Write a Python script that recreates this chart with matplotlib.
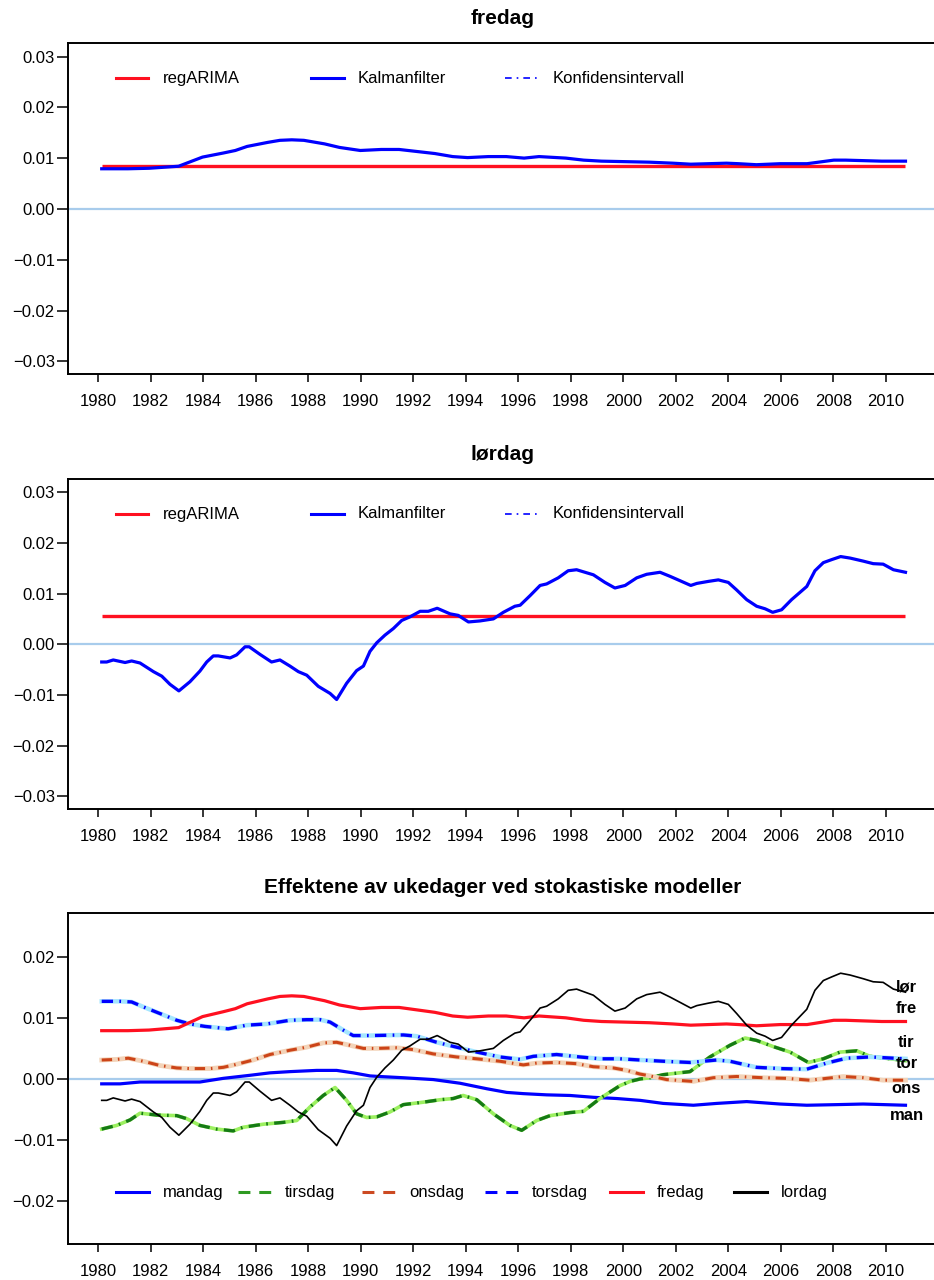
import matplotlib
matplotlib.use("Agg")
import matplotlib.pyplot as plt
from matplotlib.lines import Line2D

plt.rcParams['font.family'] = ['Liberation Sans', 'DejaVu Sans']

# ---------------------------------------------------------------- data
years = list(range(1980, 2011, 2))

reg_fredag = 0.0085
reg_lordag = 0.0056

fredag = [(1980.13, 0.0079), (1981.13, 0.0079), (1981.93, 0.0080), (1983.06, 0.0084),
          (1983.97, 0.0102), (1984.76, 0.0110), (1985.22, 0.0115), (1985.67, 0.0123),
          (1986.46, 0.0131), (1986.92, 0.0135), (1987.37, 0.0136), (1987.83, 0.0135),
          (1988.62, 0.0128), (1989.19, 0.0121), (1989.98, 0.0115), (1990.78, 0.0117),
          (1991.46, 0.0117), (1992.14, 0.0113), (1992.82, 0.0109), (1993.50, 0.0103),
          (1994.07, 0.0101), (1994.86, 0.0103), (1995.54, 0.0103), (1996.22, 0.0100),
          (1996.79, 0.0103), (1997.81, 0.0100), (1998.49, 0.0096), (1999.17, 0.0094),
          (2000.08, 0.0093), (2000.99, 0.0092), (2001.89, 0.0090), (2002.57, 0.0088),
          (2003.93, 0.0090), (2004.39, 0.0089), (2005.07, 0.0087), (2005.98, 0.0089),
          (2007.00, 0.0089), (2008.02, 0.0096), (2008.47, 0.0096), (2009.84, 0.0094),
          (2010.75, 0.0094)]

lordag = [(1980.13, -0.0035), (1980.32, -0.0035), (1980.57, -0.0031), (1981.02, -0.0036),
          (1981.27, -0.0033), (1981.59, -0.0037), (1982.10, -0.0054), (1982.42, -0.0063),
          (1982.73, -0.0079), (1983.07, -0.0092), (1983.49, -0.0074), (1983.87, -0.0053),
          (1984.13, -0.0035), (1984.38, -0.0023), (1984.57, -0.0023), (1985.02, -0.0027),
          (1985.27, -0.0021), (1985.59, -0.0005), (1985.75, -0.0005), (1986.16, -0.0020),
          (1986.60, -0.0035), (1986.92, -0.0031), (1987.30, -0.0043), (1987.62, -0.0054),
          (1987.94, -0.0061), (1988.38, -0.0083), (1988.83, -0.0097), (1989.08, -0.0109),
          (1989.46, -0.0077), (1989.84, -0.0052), (1990.10, -0.0043), (1990.35, -0.0014),
          (1990.61, 0.0003), (1990.92, 0.0018), (1991.24, 0.0031), (1991.56, 0.0047),
          (1991.87, 0.0054), (1992.26, 0.0065), (1992.57, 0.0065), (1992.91, 0.0071),
          (1993.40, 0.0060), (1993.71, 0.0057), (1994.10, 0.0044), (1994.54, 0.0046),
          (1995.05, 0.0050), (1995.43, 0.0063), (1995.87, 0.0075), (1996.07, 0.0077),
          (1996.45, 0.0096), (1996.83, 0.0116), (1997.08, 0.0119), (1997.52, 0.0131),
          (1997.90, 0.0145), (1998.22, 0.0147), (1998.86, 0.0137), (1999.30, 0.0122),
          (1999.68, 0.0111), (2000.07, 0.0116), (2000.51, 0.0131), (2000.89, 0.0138),
          (2001.40, 0.0142), (2001.78, 0.0134), (2002.22, 0.0124), (2002.57, 0.0116),
          (2002.80, 0.0120), (2003.24, 0.0124), (2003.62, 0.0127), (2004.00, 0.0122),
          (2004.32, 0.0107), (2004.70, 0.0088), (2005.08, 0.0075), (2005.40, 0.0070),
          (2005.69, 0.0063), (2006.03, 0.0068), (2006.41, 0.0088), (2006.99, 0.0114),
          (2007.30, 0.0145), (2007.62, 0.0161), (2007.94, 0.0167), (2008.28, 0.0173),
          (2008.64, 0.0170), (2009.14, 0.0164), (2009.52, 0.0159), (2009.90, 0.0158),
          (2010.29, 0.0147), (2010.75, 0.0142)]

mandag = [(1980.13, -0.0008), (1980.83, -0.0008), (1981.59, -0.0005), (1982.99, -0.0005),
          (1983.87, -0.0005), (1984.76, 0.0001), (1985.78, 0.0006), (1986.54, 0.0010),
          (1987.30, 0.0012), (1988.32, 0.0014), (1989.08, 0.0014), (1989.71, 0.0010),
          (1990.35, 0.0005), (1990.73, 0.0004), (1991.62, 0.0002), (1992.76, -0.0001),
          (1993.78, -0.0007), (1994.80, -0.0016), (1995.56, -0.0022), (1996.19, -0.0024),
          (1997.08, -0.0026), (1997.97, -0.0027), (1998.86, -0.0030), (1999.75, -0.0032),
          (2000.64, -0.0035), (2001.52, -0.0040), (2002.67, -0.0043), (2003.56, -0.0040),
          (2004.70, -0.0037), (2005.97, -0.0041), (2006.99, -0.0043), (2008.13, -0.0042),
          (2009.14, -0.0041), (2010.75, -0.0043)]

tirsdag = [(1980.13, -0.0082), (1980.70, -0.0076), (1981.21, -0.0067), (1981.59, -0.0056),
           (1982.22, -0.0059), (1982.99, -0.0060), (1983.37, -0.0065), (1983.87, -0.0076),
           (1984.51, -0.0082), (1985.14, -0.0085), (1985.52, -0.0079), (1986.29, -0.0074),
           (1987.05, -0.0071), (1987.56, -0.0068), (1988.06, -0.0046), (1988.57, -0.0027),
           (1989.02, -0.0014), (1989.46, -0.0035), (1989.84, -0.0057), (1990.22, -0.0063),
           (1990.61, -0.0062), (1991.11, -0.0054), (1991.62, -0.0042), (1992.38, -0.0038),
           (1993.02, -0.0034), (1993.52, -0.0032), (1993.90, -0.0027), (1994.42, -0.0034),
           (1995.05, -0.0057), (1995.68, -0.0076), (1996.13, -0.0084), (1996.70, -0.0068),
           (1997.21, -0.0060), (1997.97, -0.0055), (1998.48, -0.0053), (1999.11, -0.0032),
           (1999.87, -0.0011), (2000.26, -0.0004), (2000.64, 0.0000), (2001.02, 0.0002),
           (2001.52, 0.0007), (2002.54, 0.0012), (2003.30, 0.0036), (2004.06, 0.0055),
           (2004.64, 0.0067), (2005.08, 0.0063), (2005.71, 0.0053), (2006.35, 0.0044),
           (2007.05, 0.0027), (2007.62, 0.0033), (2008.26, 0.0044), (2008.90, 0.0046),
           (2009.40, 0.0037), (2010.16, 0.0033), (2010.75, 0.0030)]

onsdag = [(1980.13, 0.0031), (1980.70, 0.0032), (1981.14, 0.0034), (1981.71, 0.0029),
          (1982.35, 0.0022), (1982.99, 0.0018), (1983.49, 0.0017), (1984.26, 0.0017),
          (1984.76, 0.0019), (1985.27, 0.0024), (1985.90, 0.0031), (1986.54, 0.0040),
          (1987.30, 0.0047), (1987.94, 0.0052), (1988.57, 0.0059), (1989.08, 0.0060),
          (1989.59, 0.0055), (1990.10, 0.0050), (1990.61, 0.0050), (1991.37, 0.0051),
          (1992.00, 0.0048), (1992.76, 0.0041), (1993.65, 0.0036), (1994.42, 0.0033),
          (1995.30, 0.0029), (1996.19, 0.0023), (1996.70, 0.0026), (1997.46, 0.0027),
          (1998.22, 0.0025), (1998.86, 0.0020), (1999.62, 0.0018), (2000.13, 0.0014),
          (2000.64, 0.0008), (2001.02, 0.0005), (2001.65, -0.0001), (2002.67, -0.0004),
          (2003.43, 0.0002), (2004.32, 0.0004), (2005.33, 0.0002), (2006.22, 0.0001),
          (2007.11, -0.0002), (2008.38, 0.0004), (2009.14, 0.0002), (2009.90, -0.0002),
          (2010.75, -0.0002)]

torsdag = [(1980.13, 0.0127), (1980.83, 0.0127), (1981.27, 0.0126), (1981.71, 0.0118),
           (1982.35, 0.0107), (1982.99, 0.0096), (1983.49, 0.0090), (1984.06, 0.0086),
           (1984.51, 0.0084), (1984.95, 0.0082), (1985.65, 0.0088), (1986.42, 0.0090),
           (1987.30, 0.0096), (1987.94, 0.0097), (1988.45, 0.0097), (1988.83, 0.0093),
           (1989.33, 0.0080), (1989.71, 0.0071), (1990.35, 0.0071), (1991.62, 0.0072),
           (1992.13, 0.0070), (1992.89, 0.0060), (1993.65, 0.0052), (1994.42, 0.0044),
           (1995.30, 0.0036), (1996.07, 0.0032), (1996.57, 0.0037), (1997.46, 0.0040),
           (1998.35, 0.0036), (1999.11, 0.0033), (1999.87, 0.0033), (2000.64, 0.0031),
           (2001.52, 0.0029), (2002.54, 0.0027), (2003.56, 0.0031), (2004.06, 0.0029),
           (2005.08, 0.0019), (2005.97, 0.0017), (2006.99, 0.0016), (2007.75, 0.0026),
           (2008.51, 0.0034), (2009.40, 0.0036), (2010.29, 0.0034), (2010.75, 0.0033)]

short_names = ['lør', 'fre', 'tir', 'tor', 'ons', 'man']
short_pos = [0.0151, 0.0115, 0.0060, 0.0026, -0.0015, -0.0059]

top_legend = ['regARIMA', 'Kalmanfilter', 'Konfidensintervall']
bottom_legend = ['mandag', 'tirsdag', 'onsdag', 'torsdag', 'fredag', 'lordag']

# ---------------------------------------------------------------- style
W, H = 934, 1280
ZERO = '#A8CCEC'
BLUE = '#0000FF'
RED = '#FF1020'
DASHDOT = (0, (3.4, 1.9, 0.5, 1.9))


def unzip(series):
    return [p[0] for p in series], [p[1] for p in series]


def make_axes(fig, top_px, bottom_px, ylim, yticks, title):
    left_px, right_px = 68, 937
    ax = fig.add_axes([left_px / W, 1 - bottom_px / H,
                       (right_px - left_px) / W, (bottom_px - top_px) / H])
    x0 = 1980 - (98.3 - left_px) / 26.25
    x1 = 1980 + (right_px - 98.3) / 26.25
    ax.set_xlim(x0, x1)
    ax.set_ylim(*ylim)
    ax.set_xticks(years)
    ax.set_xticklabels([str(y) for y in years])
    ax.set_yticks(yticks)
    ax.set_yticklabels([f'{v:.2f}'.replace('-', '\u2212') for v in yticks])
    for s in ['top', 'left', 'bottom']:
        ax.spines[s].set_linewidth(1.4)
    ax.spines['right'].set_visible(False)
    ax.tick_params(axis='y', direction='out', length=8, width=1.1,
                   labelsize=12, pad=1.5)
    ax.tick_params(axis='x', direction='out', length=6, width=1.1,
                   labelsize=12, pad=8.5)
    ax.axhline(0, color=ZERO, lw=1.6, zorder=1)
    ax.text(0.5, 1 + 25 / (bottom_px - top_px), title, transform=ax.transAxes,
            ha='center', va='center', fontsize=15, fontweight='bold')
    return ax


def legend_entry(ax, x0, x1, xt, y, label, **line_kw):
    ax.add_line(Line2D([x0, x1], [y, y], transform=ax.transAxes,
                       clip_on=False, **line_kw))
    ax.text(xt, y, label, transform=ax.transAxes, ha='left', va='center',
            fontsize=12)


def axfrac(px):
    return (px - 68) / (937 - 68)


fig = plt.figure(figsize=(W / 100, H / 100), dpi=100)

# ---------------------------------------------------------------- two single-day panels
panels = [(43.3, 374.0, 'fredag', fredag, reg_fredag),
          (479.0, 809.0, 'lørdag', lordag, reg_lordag)]
ticks3 = [0.03, 0.02, 0.01, 0.0, -0.01, -0.02, -0.03]
for top_px, bot_px, title, series, reg in panels:
    ax = make_axes(fig, top_px, bot_px, (-0.0325, 0.0326), ticks3, title)
    t, v = unzip(series)
    ax.plot([t[0], t[-1]], [reg, reg], color=RED, lw=2.4, zorder=3,
            solid_capstyle='butt')
    ax.plot(t, v, color=BLUE, lw=2.3, zorder=4)
    ly = 1 - 35 / (bot_px - top_px)
    legend_entry(ax, axfrac(116), axfrac(148), axfrac(163), ly, top_legend[0],
                 color=RED, lw=2.2)
    legend_entry(ax, axfrac(311), axfrac(344), axfrac(358), ly, top_legend[1],
                 color=BLUE, lw=2.2)
    legend_entry(ax, axfrac(505), axfrac(539), axfrac(553), ly, top_legend[2],
                 color=BLUE, lw=1.2, ls=(0, (4, 3, 1, 3)))

# ---------------------------------------------------------------- all weekdays
ax = make_axes(fig, 912.7, 1244.0, (-0.0270, 0.0272),
               [0.02, 0.01, 0.0, -0.01, -0.02],
               'Effektene av ukedager ved stokastiske modeller')

t, v = unzip(mandag)
ax.plot(t, v, color=BLUE, lw=2.3, zorder=3)

t, v = unzip(tirsdag)
ax.plot(t, v, color='#9CF060', lw=2.6, zorder=3)
ax.plot(t, v, color='#157A15', lw=2.4, ls=DASHDOT, zorder=3)

t, v = unzip(onsdag)
ax.plot(t, v, color='#F3D3B8', lw=3.4, zorder=3)
ax.plot(t, v, color='#CC4418', lw=2.2, ls=DASHDOT, zorder=3)

t, v = unzip(torsdag)
ax.plot(t, v, color='#A6E6FF', lw=3.2, zorder=3)
ax.plot(t, v, color=BLUE, lw=2.4, ls=DASHDOT, zorder=3)

t, v = unzip(fredag)
ax.plot(t, v, color=RED, lw=2.3, zorder=3)

t, v = unzip(lordag)
ax.plot(t, v, color='black', lw=1.2, zorder=4)

for name, pos in zip(short_names, short_pos):
    ax.text(2010.79, pos, name, ha='center', va='center', fontsize=12,
            fontweight='bold', zorder=5)

ly = 1 - (1192 - 912.7) / (1244.0 - 912.7)
dash = (0, (3.9, 2.9))
styles = [dict(color=BLUE, lw=2.2),
          dict(color='#2E9A22', lw=2.2, ls=dash),
          dict(color='#CC4A22', lw=2.2, ls=dash),
          dict(color=BLUE, lw=2.2, ls=dash),
          dict(color=RED, lw=2.2),
          dict(color='black', lw=2.2)]
hx = [116, 238, 362, 485, 610, 734]
for label, x, st in zip(bottom_legend, hx, styles):
    legend_entry(ax, axfrac(x), axfrac(x + 33), axfrac(x + 47), ly, label, **st)

fig.savefig('out.png', dpi=100)
